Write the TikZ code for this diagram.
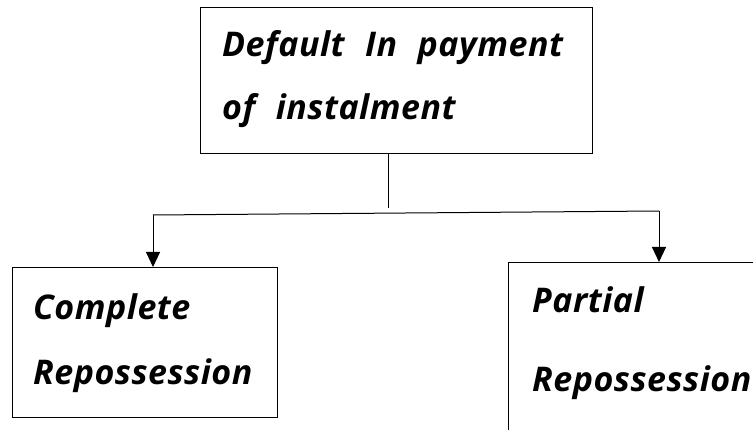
\documentclass[tikz,border=0pt]{standalone}
\usepackage{fontspec}
\setmainfont[WordSpace=2.2,LetterSpace=1.5]{Open Sans}
\usetikzlibrary{arrows.meta,calc}
\tikzset{
  box/.style={draw=black, line width=1pt, anchor=north west, inner sep=0pt},
  label/.style={anchor=base west, inner sep=0pt, font=\fontsize{34}{38}\selectfont\bfseries\itshape},
  link/.style={line width=1pt},
  arrowlink/.style={line width=1pt, -{Triangle[width=14pt,length=15pt]}}
}
\begin{document}
\begin{tikzpicture}[x=1pt,y=-1pt]
  \useasboundingbox (0,0) rectangle (753,430);
  % boxes
  \node[box, minimum width=392pt, minimum height=146pt] (top) at (200,7) {};
  \node[box, minimum width=265pt, minimum height=150pt] (lbox) at (12,267) {};
  \node[box, minimum width=270pt, minimum height=200pt] (rbox) at (508,262) {};
  % texts
  \node[label] (t1) at ($(top.north west)+(22,50)$) {Default In payment};
  \node[label] (t2) at ($(top.north west)+(22,113)$) {of instalment};
  \node[label] (l1) at ($(lbox.north west)+(21,53)$) {Complete};
  \node[label] (l2) at ($(lbox.north west)+(21,118)$) {Repossession};
  \node[label] (r1) at ($(rbox.north west)+(24,51)$) {Partial};
  \node[label] (r2) at ($(rbox.north west)+(24,130)$) {Repossession};
  % connectors
  \coordinate (stem) at (388,208);
  \coordinate (jl) at (153,215);
  \coordinate (jr) at (659,211);
  \draw[link] (top.south -| stem) -- (stem);
  \draw[link] (jl) -- (jr);
  \draw[arrowlink] (jl) -- (jl |- lbox.north);
  \draw[arrowlink] (jr) -- (jr |- rbox.north);
\end{tikzpicture}
\end{document}
